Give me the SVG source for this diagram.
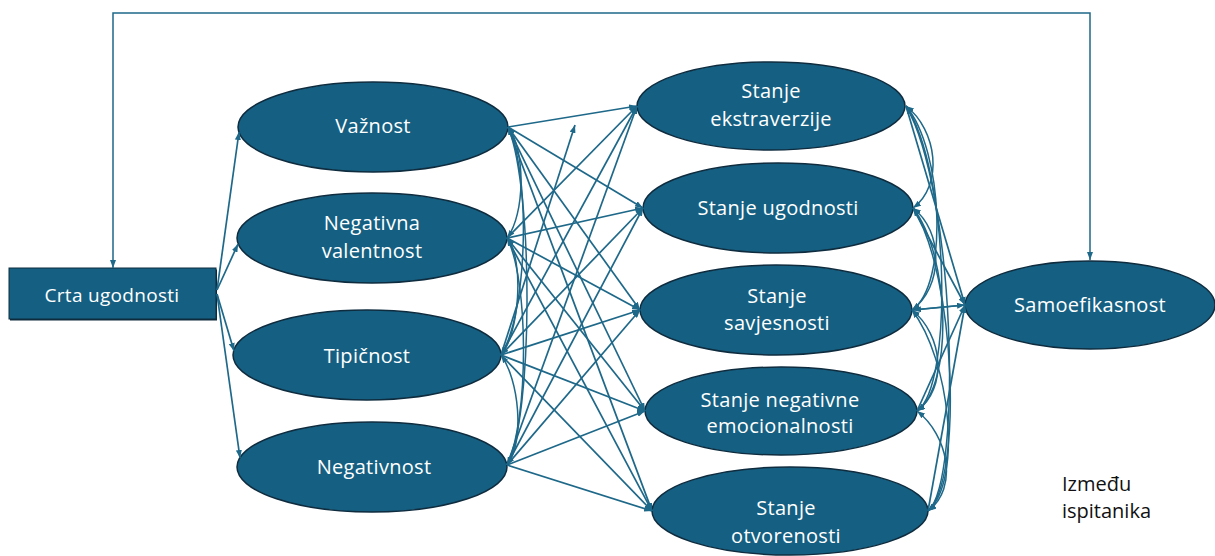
<svg xmlns="http://www.w3.org/2000/svg" width="1215" height="556" viewBox="0 0 1215 556">
<defs>
<marker id="ah" viewBox="0 0 8 6" refX="8" refY="3" markerWidth="8" markerHeight="6" markerUnits="userSpaceOnUse" orient="auto-start-reverse">
<path d="M0,0 L8,3 L0,6 z" fill="#1e6889"/>
</marker>
</defs>
<style>
.node{fill:#156082;stroke:#0f2c3f;stroke-width:1.5}
.lbl{font-family:"Open Sans","Liberation Sans",sans-serif;font-size:20px;fill:#ffffff;text-anchor:middle;letter-spacing:0.3px}
.c{fill:none;stroke:#1e6889;stroke-width:1.7;marker-end:url(#ah)}
.cv{fill:none;stroke:#1e6889;stroke-width:1.5;marker-start:url(#ah);marker-end:url(#ah)}
.note{font-family:"Open Sans","Liberation Sans",sans-serif;font-size:20px;fill:#111111}
</style>
<rect width="1215" height="556" fill="#ffffff"/>

<g id="nodes">
<g id="crta">
<rect x="10" y="269.5" width="207" height="51" fill="#0c2a3c"/>
<rect x="9" y="268" width="207" height="51" fill="#156082" stroke="#0f2c3f" stroke-width="1"/>
<text class="lbl" x="112" y="302" style="font-size:19px">Crta ugodnosti</text>
</g>
<g id="vaznost">
<ellipse class="node" cx="373" cy="127" rx="135" ry="45"/>
<text class="lbl" x="373" y="133">Važnost</text>
</g>
<g id="negval">
<ellipse class="node" cx="372" cy="238" rx="135" ry="45"/>
<text class="lbl" x="372" y="230">Negativna</text>
<text class="lbl" x="372" y="258">valentnost</text>
</g>
<g id="tipicnost">
<ellipse class="node" cx="367" cy="355" rx="134" ry="45"/>
<text class="lbl" x="367" y="363">Tipičnost</text>
</g>
<g id="negativnost">
<ellipse class="node" cx="372" cy="467" rx="135" ry="45"/>
<text class="lbl" x="374" y="474">Negativnost</text>
</g>
<g id="ekstra">
<ellipse class="node" cx="771" cy="106" rx="134" ry="44"/>
<text class="lbl" x="771" y="98">Stanje</text>
<text class="lbl" x="771" y="126">ekstraverzije</text>
</g>
<g id="ugod">
<ellipse class="node" cx="778" cy="208" rx="135" ry="45"/>
<text class="lbl" x="778" y="215">Stanje ugodnosti</text>
</g>
<g id="savj">
<ellipse class="node" cx="776" cy="310" rx="136" ry="45"/>
<text class="lbl" x="777" y="303">Stanje</text>
<text class="lbl" x="777" y="330">savjesnosti</text>
</g>
<g id="negemo">
<ellipse class="node" cx="781" cy="411" rx="136" ry="44"/>
<text class="lbl" x="780" y="407">Stanje negativne</text>
<text class="lbl" x="780" y="433">emocionalnosti</text>
</g>
<g id="otv">
<ellipse class="node" cx="790" cy="511" rx="138" ry="44"/>
<text class="lbl" x="786" y="515">Stanje</text>
<text class="lbl" x="786" y="543">otvorenosti</text>
</g>
<g id="samo">
<ellipse class="node" cx="1090" cy="305" rx="125" ry="44"/>
<text class="lbl" x="1090" y="312">Samoefikasnost</text>
</g>
<g id="napomena">
<text class="note" x="1062" y="491">Između</text>
<text class="note" x="1062" y="518">ispitanika</text>
</g>
</g>

<g id="connectors">
<path class="cv" d="M113,268 V13 H1090 V260"/>
<path class="c" d="M217,290 L239,132"/>
<path class="c" d="M217,290 L238,244"/>
<path class="c" d="M217,294 L234,351"/>
<path class="c" d="M217,294 L240,458"/>

<path class="c" d="M508,127 L637,106"/>
<path class="c" d="M508,127 L643,208"/>
<path class="c" d="M508,127 L640,310"/>
<path class="c" d="M508,127 L645,411"/>
<path class="c" d="M508,127 L652,511"/>
<path class="c" d="M507,238 L637,106"/>
<path class="c" d="M507,238 L643,208"/>
<path class="c" d="M507,238 L640,310"/>
<path class="c" d="M507,238 L645,411"/>
<path class="c" d="M507,238 L652,511"/>
<path class="c" d="M501,355 L637,106"/>
<path class="c" d="M501,355 L643,208"/>
<path class="c" d="M501,355 L640,310"/>
<path class="c" d="M501,355 L645,411"/>
<path class="c" d="M501,355 L652,511"/>
<path class="c" d="M507,465 L637,106"/>
<path class="c" d="M507,465 L643,208"/>
<path class="c" d="M507,465 L640,310"/>
<path class="c" d="M507,465 L645,411"/>
<path class="c" d="M507,465 L652,511"/>
<path class="c" d="M501,355 L575,125"/>

<path class="cv" d="M508,127 C526,150 525,215 507,238"/>
<path class="cv" d="M508,127 C530,170 529,310 501,355"/>
<path class="cv" d="M508,127 C534,190 533,420 507,465"/>
<path class="cv" d="M507,238 C525,260 519,335 501,355"/>
<path class="cv" d="M507,238 C529,280 529,420 507,465"/>
<path class="cv" d="M501,355 C519,380 525,440 507,465"/>

<path class="c" d="M906,106 L965,305"/>
<path class="c" d="M913,208 L965,305"/>
<path class="c" d="M912,310 L965,305"/>
<path class="c" d="M917,411 L965,305"/>
<path class="c" d="M928,511 L965,305"/>
<path class="c" d="M965,305 L913,310"/>

<path class="cv" d="M906,106 C937,130 944,185 913,208"/>
<path class="cv" d="M906,106 C943,150 949,285 912,310"/>
<path class="cv" d="M906,106 C949,170 954,385 917,411"/>
<path class="cv" d="M906,106 C955,190 963,480 928,511"/>
<path class="cv" d="M913,208 C944,232 943,287 912,310"/>
<path class="cv" d="M913,208 C950,255 954,385 917,411"/>
<path class="cv" d="M913,208 C956,275 963,480 928,511"/>
<path class="cv" d="M912,310 C943,335 948,388 917,411"/>
<path class="cv" d="M912,310 C950,360 963,480 928,511"/>
<path class="cv" d="M917,411 C948,435 959,488 928,511"/>
</g>
</svg>
